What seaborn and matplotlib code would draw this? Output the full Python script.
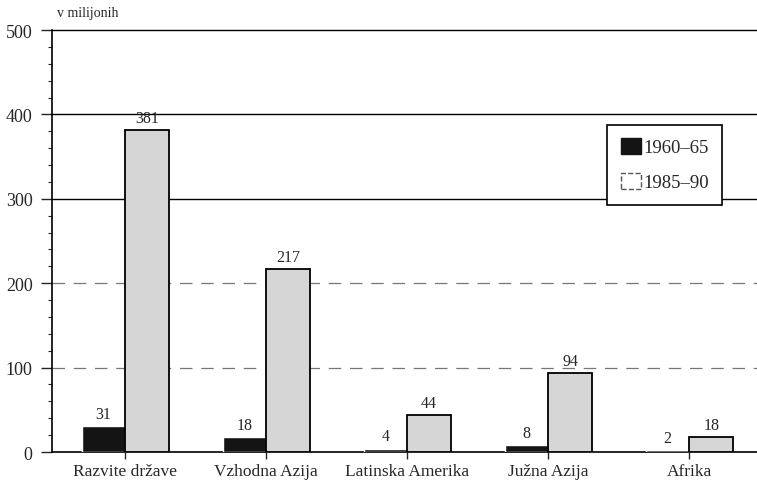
import pandas as pd
import seaborn as sns
import matplotlib.pyplot as plt
from matplotlib.patches import Patch
from matplotlib.ticker import MultipleLocator

regije = ["Razvite države", "Vzhodna Azija", "Latinska Amerika", "Južna Azija", "Afrika"]
obdobja = ["1960–65", "1985–90"]
v_1960_65 = [31, 18, 4, 8, 2]
v_1985_90 = [381, 217, 44, 94, 18]

df = pd.DataFrame({
    "Regija": regije * 2,
    "Obdobje": [obdobja[0]] * len(regije) + [obdobja[1]] * len(regije),
    "Vrednost": v_1960_65 + v_1985_90,
})

sns.set_style("white")
plt.rcParams["font.family"] = ["Liberation Serif", "DejaVu Serif"]

fig = plt.figure(figsize=(7.57, 4.89), dpi=100)
ax = fig.add_axes([0.0687, 0.0736, 0.9313, 0.863])

barve = {obdobja[0]: "#141414", obdobja[1]: "#d6d6d6"}
sns.barplot(data=df, x="Regija", y="Vrednost", hue="Obdobje", palette=barve,
            width=0.62, saturation=1, ax=ax, legend=False, zorder=3)

for p in ax.containers[1]:
    p.set_edgecolor("black")
    p.set_linewidth(1.3)

for c in ax.containers:
    ax.bar_label(c, fontsize=11.5, padding=3)

# mreža
for y in [300, 400, 500]:
    ax.axhline(y, color="black", lw=1.0, zorder=1, clip_on=False)
for y in [100, 200]:
    ax.axhline(y, color="#777777", lw=0.9, ls=(0, (10, 7)), zorder=1)

ax.set_ylim(0, 500)
ax.set_xlim(-0.52, 4.48)
ax.yaxis.set_major_locator(MultipleLocator(100))
ax.yaxis.set_minor_locator(MultipleLocator(20))
ax.tick_params(axis="y", which="major", direction="out", length=8, width=1,
               labelsize=13, pad=6, left=True)
ax.tick_params(axis="y", which="minor", direction="out", length=3, width=0.8, left=True)
ax.tick_params(axis="x", direction="out", length=5, width=1, labelsize=12.5, pad=3,
               bottom=True)

for s in ["top", "right"]:
    ax.spines[s].set_visible(False)
ax.spines["left"].set_color("black")
ax.spines["bottom"].set_color("black")
ax.spines["left"].set_linewidth(1.2)
ax.spines["bottom"].set_linewidth(1.2)

ax.set_xlabel("")
ax.set_ylabel("")
ax.text(0.007, 1.025, "v milijonih", transform=ax.transAxes, fontsize=10, va="bottom")

rocke = [
    Patch(facecolor=barve[obdobja[0]], edgecolor=barve[obdobja[0]]),
    Patch(facecolor="white", edgecolor="#555555", linestyle="--", linewidth=1),
]
leg = ax.legend(rocke, obdobja, loc="upper right", bbox_to_anchor=(0.95, 0.775),
                fontsize=13.5, frameon=True, fancybox=False, edgecolor="black",
                framealpha=1, handlelength=1.1, handleheight=0.9, handletextpad=0.1,
                borderpad=0.7, labelspacing=0.9, borderaxespad=0)
leg.get_frame().set_linewidth(1.2)
leg.set_zorder(5)

fig.savefig("out.png", dpi=100)
